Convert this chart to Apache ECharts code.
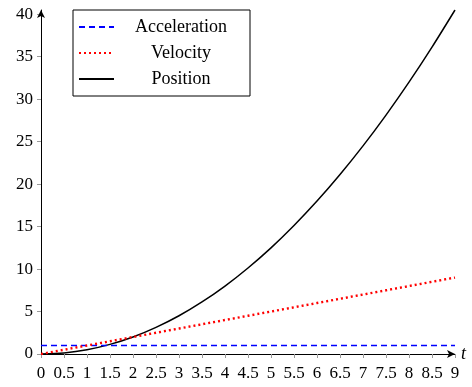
<!DOCTYPE html>
<html>
<head>
<meta charset="utf-8">
<script src="https://cdn.jsdelivr.net/npm/echarts@6/dist/echarts.min.js"></script>
<style>
  html, body { margin: 0; padding: 0; background: #fff; }
  #main { width: 472px; height: 387px; }
</style>
</head>
<body>
<div id="main"></div>
<script>
// 横轴 t
var tValues = [0, 0.5, 1, 1.5, 2, 2.5, 3, 3.5, 4, 4.5, 5, 5.5, 6, 6.5, 7, 7.5, 8, 8.5, 9];
// 加速度、速度、位移
var acceleration = [1, 1, 1, 1, 1, 1, 1, 1, 1, 1, 1, 1, 1, 1, 1, 1, 1, 1, 1];
var velocity = [0, 0.5, 1, 1.5, 2, 2.5, 3, 3.5, 4, 4.5, 5, 5.5, 6, 6.5, 7, 7.5, 8, 8.5, 9];
var position = [0, 0.13, 0.5, 1.13, 2, 3.13, 4.5, 6.13, 8, 10.13, 12.5, 15.13, 18, 21.13, 24.5, 28.13, 32, 36.13, 40.5];
var yTicks = [0, 5, 10, 15, 20, 25, 30, 35, 40];
var seriesNames = ['Acceleration', 'Velocity', 'Position'];

function pairs(ys) {
  var out = [];
  for (let i = 0; i < tValues.length; i++) {
    out.push([tValues[i], ys[i]]);
  }
  return out;
}

var myChart = echarts.init(document.getElementById('main'));
var font = 'Liberation Serif';

var option = {
  animation: false,
  textStyle: { fontFamily: font },
  grid: { left: 41, right: 17, top: 10, bottom: 33 },
  legend: {
    orient: 'vertical',
    left: 73,
    top: 10,
    data: seriesNames,
    borderColor: '#000',
    borderWidth: 1,
    borderRadius: 0,
    padding: [8, 7, 8, 5],
    itemGap: 8,
    itemWidth: 35,
    itemHeight: 14,
    itemStyle: { opacity: 0 },
    lineStyle: { width: 2 },
    formatter: '{a|{name}}',
    textStyle: {
      fontFamily: font,
      fontSize: 18,
      color: '#000',
      rich: { a: { width: 124, lineHeight: 20, align: 'center', fontFamily: font, fontSize: 18, color: '#000' } }
    }
  },
  xAxis: {
    type: 'value',
    min: 0,
    max: 9,
    interval: 0.5,
    name: 't',
    nameLocation: 'end',
    nameGap: 6,
    nameTextStyle: { fontFamily: font, fontStyle: 'italic', fontSize: 18, color: '#000', padding: [0, 0, 10, 0] },
    splitLine: { show: false },
    axisLine: { lineStyle: { color: '#000', width: 1 }, symbol: ['none', 'arrow'], symbolSize: [6, 8] },
    axisTick: { lineStyle: { color: '#999' }, length: 4 },
    axisLabel: { color: '#000', fontSize: 17, margin: 11, fontFamily: font }
  },
  yAxis: {
    type: 'value',
    min: 0,
    max: 40.5,
    splitLine: { show: false },
    axisLine: { show: true, lineStyle: { color: '#000', width: 1 }, symbol: ['none', 'arrow'], symbolSize: [6, 8] },
    axisTick: { show: true, lineStyle: { color: '#999' }, length: 4, customValues: yTicks },
    axisLabel: { color: '#000', fontSize: 17, margin: 8, fontFamily: font, customValues: yTicks }
  },
  series: [
    {
      name: 'Acceleration',
      type: 'line',
      data: pairs(acceleration),
      showSymbol: false,
      symbol: 'none',
      color: '#0000ff',
      lineStyle: { color: '#0000ff', width: 1.5, type: [6, 4] },
      z: 3
    },
    {
      name: 'Velocity',
      type: 'line',
      data: pairs(velocity),
      showSymbol: false,
      symbol: 'none',
      color: '#ff0000',
      lineStyle: { color: '#ff0000', width: 2.4, type: [2, 3] },
      z: 4
    },
    {
      name: 'Position',
      type: 'line',
      data: pairs(position),
      showSymbol: false,
      symbol: 'none',
      smooth: 0.3,
      color: '#000',
      lineStyle: { color: '#000', width: 1.5 },
      z: 2
    }
  ]
};
myChart.setOption(option);
</script>
</body>
</html>
